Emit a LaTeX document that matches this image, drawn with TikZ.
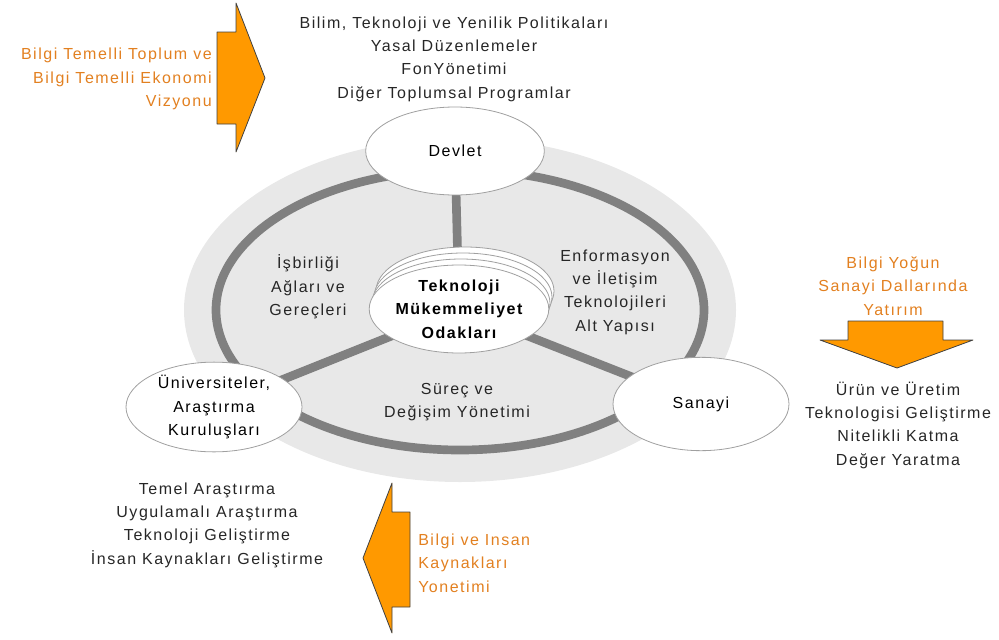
\documentclass[tikz,border=0pt]{standalone}
\usepackage{fontspec}
\setmainfont{Liberation Sans}[LetterSpace=9.5]
\usetikzlibrary{shapes.geometric,backgrounds}
\definecolor{arroworange}{RGB}{255,153,0}
\definecolor{txtorange}{RGB}{226,128,32}
\definecolor{ringgray}{RGB}{128,128,128}
\definecolor{discgray}{RGB}{232,232,232}
\definecolor{lightframe}{RGB}{160,160,160}
\begin{document}
\begin{tikzpicture}[x=0.75pt,y=-0.75pt,line join=round,
  font=\fontsize{12}{17.5}\selectfont,
  bubble/.style={ellipse,fill=white,draw=lightframe,line width=0.6pt,align=center,inner sep=0pt},
  spoke/.style={draw=ringgray,line width=6.5pt},
  pointer/.style={fill=arroworange,draw=black!75,line width=0.6pt},
  note/.style={align=center,inner sep=0pt,text=black!85},
  gold/.style={text=txtorange,inner sep=0pt}]
\useasboundingbox (0,0) rectangle (999,639);
\node[bubble,minimum width=134pt,minimum height=66pt] (devlet) at (455,151) {Devlet};
\node[bubble,minimum width=134pt,minimum height=66pt,font=\fontsize{12}{17.5}\selectfont\bfseries] (odak) at (459,309) {Teknoloji\\Mükemmeliyet\\Odakları};
\node[bubble,minimum width=132pt,minimum height=65pt] (universite) at (214,407) {Üniversiteler,\\Araştırma\\Kuruluşları};
\node[bubble,minimum width=132pt,minimum height=70pt] (sanayi) at (701,404) {Sanayi};
\begin{pgfonlayer}{background}
\fill[discgray] (460,310) ellipse [x radius=276, y radius=172];
\draw[ringgray,line width=6.5pt] (460,310) ellipse [x radius=244, y radius=140];
\draw[spoke] (odak.center) -- (devlet.center);
\draw[spoke] (odak.center) -- (universite.center);
\draw[spoke] (odak.center) -- (sanayi.center);
\foreach \k in {3,2,1}
  \draw[fill=white,draw=lightframe,line width=0.6pt] ([shift={(2*\k,-6*\k)}]odak.center) ellipse [x radius=89, y radius=44];
\end{pgfonlayer}
\filldraw[pointer] (217,32) -- (236,32) -- (236,3) -- (265,78) -- (236,152) -- (236,124) -- (217,124) -- cycle;
\filldraw[pointer] (848,321) -- (943,321) -- (943,340) -- (973,340) -- (897,368) -- (820,340) -- (848,340) -- cycle;
\filldraw[pointer] (410,512) -- (410,607) -- (392,607) -- (392,633) -- (363,558) -- (392,483) -- (392,512) -- cycle;
\node[note] (politika) at (454,59) {Bilim, Teknoloji ve Yenilik Politikaları\\Yasal Düzenlemeler\\FonYönetimi\\Diğer Toplumsal Programlar};
\node[gold,align=right,anchor=east] (vizyon) at (212,79) {Bilgi Temelli Toplum ve\\Bilgi Temelli Ekonomi\\Vizyonu};
\node[note] (isbirligi) at (308,287) {İşbirliği\\Ağları ve\\Gereçleri};
\node[note] (enformasyon) at (615,292) {Enformasyon\\ve İletişim\\Teknolojileri\\Alt Yapısı};
\node[note] (surec) at (457,402) {Süreç ve\\Değişim Yönetimi};
\node[gold,align=center] (yatirim) at (893,286) {Bilgi Yoğun\\Sanayi Dallarında\\Yatırım};
\node[note] (urun) at (898,425) {Ürün ve Üretim\\Teknologisi Geliştirme\\Nitelikli Katma\\Değer Yaratma};
\node[note] (arastirma) at (207,525) {Temel Araştırma\\Uygulamalı Araştırma\\Teknoloji Geliştirme\\İnsan Kaynakları Geliştirme};
\node[gold,align=left,anchor=west] (kaynak) at (418,563) {Bilgi ve Insan\\Kaynakları\\Yonetimi};
\end{tikzpicture}
\end{document}
